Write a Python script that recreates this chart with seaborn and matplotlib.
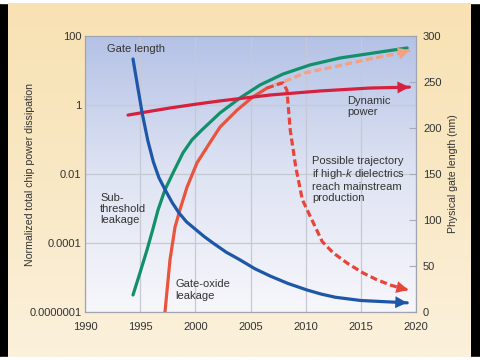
import numpy as np
import matplotlib
matplotlib.use("Agg")
import matplotlib.pyplot as plt
import seaborn as sns
from matplotlib.patches import Rectangle
from matplotlib.colors import LinearSegmentedColormap
from matplotlib.ticker import NullLocator

# values
gate_len_year = [1994.35, 1994.8, 1995.2, 1995.7, 1996.2, 1996.7, 1997.3, 1997.9, 1998.5,
                 1999.2, 2000.0, 2000.8, 2001.6, 2002.8, 2004.0, 2005.4, 2006.8,
                 2008.4, 2010.1, 2011.4, 2012.7, 2015.0, 2017.5, 2019.2]
gate_len_nm = [275, 243, 215, 186, 163, 146, 132, 119, 108,
               98, 90, 82, 75, 65, 57, 47, 39,
               31, 24, 19.5, 16, 12.5, 11, 10]

dyn_year = [1993.9, 1995.8, 1997.7, 2000.0, 2002.2, 2004.5, 2006.8, 2011.3, 2015.8, 2019.4]
dyn_power = [0.51, 0.65, 0.82, 1.05, 1.31, 1.6, 1.95, 2.55, 3.1, 3.3]

sub_year = [1994.35, 1994.98, 1995.62, 1996.1, 1996.62, 1997.25, 1998.05, 1998.88,
            1999.7, 2000.6, 2002.24, 2004.05, 2005.86, 2007.95, 2010.4, 2013.1,
            2016.1, 2019.2]
sub_power = [5.5e-7, 5.0e-6, 5.0e-5, 2.2e-4, 9.1e-4, 3.5e-3, 0.012, 0.041,
             0.098, 0.19, 0.59, 1.6, 3.8, 7.9, 14.5, 23,
             32, 45]

oxide_year = [1997.25, 1997.7, 1998.16, 1998.6, 1999.25, 2000.15, 2001.3, 2002.24,
              2003.8, 2005.2, 2006.5]
oxide_power = [1.0e-7, 1.8e-5, 2.9e-4, 9.1e-4, 4.2e-3, 0.021, 0.079, 0.23,
               0.72, 1.7, 3.1]

oxide_trend_year = [2007.2, 2008.6, 2009.9, 2012.5, 2015.6, 2018.55, 2019.45]
oxide_trend_power = [3.8, 5.6, 8.5, 12.6, 21, 32, 39]

highk_year = [2006.5, 2007.3, 2007.95, 2008.3, 2008.6, 2009.1, 2009.7, 2010.7,
              2011.5, 2012.5, 2013.8, 2015.2, 2016.4, 2017.65, 2018.6, 2019.3]
highk_power = [3.1, 3.8, 4.4, 2.7, 0.19, 0.016, 1.8e-3, 3.8e-4,
               1.1e-4, 3.7e-5, 1.3e-5, 5.0e-6, 2.6e-6, 1.5e-6, 1.1e-6, 9.1e-7]

power_ticks = [1e-7, 1e-4, 1e-2, 1, 100]
power_labels = ["0.0000001", "0.0001", "0.01", "1", "100"]
nm_ticks = [0, 50, 100, 150, 200, 250, 300]
year_ticks = [1990, 1995, 2000, 2005, 2010, 2015, 2020]

sns.set_style("white")
plt.rcParams['font.family'] = ['Liberation Sans', 'DejaVu Sans']
plt.rcParams['mathtext.fontset'] = 'custom'
plt.rcParams['mathtext.rm'] = 'Liberation Sans'
plt.rcParams['mathtext.it'] = 'Liberation Sans:italic'
txt = '#333333'


# the power axis has equal spacing per tick although the last step is 3 decades
def fwd(p):
    lp = np.log10(np.maximum(np.asarray(p, float), 1e-300))
    return np.where(lp >= -4, (lp + 4) / 2 + 1, (lp + 7) / 3)


def inv(q):
    q = np.asarray(q, float)
    return np.where(q >= 1, 10 ** (2 * (q - 1) - 4), 10 ** (3 * q - 7))


fig = plt.figure(figsize=(4.8, 3.6), dpi=100, facecolor='black')
fig.patches.append(Rectangle((0, 0), 1, 3 / 360, transform=fig.transFigure,
                             color='white', zorder=-20))
fig.patches.append(Rectangle((0, 357 / 360), 1, 3 / 360, transform=fig.transFigure,
                             color='white', zorder=-20))

bg = fig.add_axes([0, 0, 1, 1], zorder=-10)
bg.set_axis_off()
grad = np.linspace(0, 1, 256).reshape(-1, 1)
cream = LinearSegmentedColormap.from_list('cream', ['#fbf1dc', '#f9e8c4', '#f8e2b4'])
blue_bg = LinearSegmentedColormap.from_list('bluebg', ['#f7f7fb', '#dfe4f3', '#b4c2e6'])
bg.imshow(grad, cmap=cream, origin='lower', aspect='auto',
          extent=[8 / 480, 471 / 480, 3 / 360, 357 / 360])
bg.imshow(grad, cmap=blue_bg, origin='lower', aspect='auto',
          extent=[85 / 480, 416 / 480, 48 / 360, 324 / 360])
bg.set_xlim(0, 1)
bg.set_ylim(0, 1)

ax = fig.add_axes([85 / 480, 48 / 360, 331 / 480, 276 / 360])
ax.set_facecolor('none')
ax.set_yscale('function', functions=(fwd, inv))
ax2 = ax.twinx()

lw = 2.3
sns.lineplot(x=sub_year, y=sub_power, ax=ax, color='#11906a', lw=lw,
             sort=False, estimator=None)
sns.lineplot(x=oxide_year, y=oxide_power, ax=ax, color='#e8543c', lw=lw,
             sort=False, estimator=None)
sns.lineplot(x=oxide_trend_year, y=oxide_trend_power, ax=ax, color='#f2a283', lw=lw,
             sort=False, estimator=None, linestyle=(0, (2.2, 1.1)))
sns.lineplot(x=highk_year, y=highk_power, ax=ax, color='#e8443a', lw=lw,
             sort=False, estimator=None, linestyle=(0, (2.2, 1.1)))
sns.lineplot(x=dyn_year, y=dyn_power, ax=ax, color='#d7203e', lw=lw,
             sort=False, estimator=None)
sns.lineplot(x=gate_len_year, y=gate_len_nm, ax=ax2, color='#1e56a8', lw=lw,
             sort=False, estimator=None)


def head(a, xs, ys, color):
    a.annotate('', xy=(xs[-1], ys[-1]), xytext=(xs[-2], ys[-2]),
               arrowprops=dict(arrowstyle='-|>,head_length=0.7,head_width=0.35',
                               color=color, lw=0.1, shrinkA=0, shrinkB=0,
                               mutation_scale=12))


head(ax, oxide_trend_year, oxide_trend_power, '#f2a283')
head(ax, highk_year, highk_power, '#e8443a')
head(ax, dyn_year, dyn_power, '#d7203e')
head(ax2, gate_len_year, gate_len_nm, '#1e56a8')

ax.set_xlim(1990, 2020)
ax.set_ylim(1e-7, 100)
ax2.set_ylim(0, 300)
ax.set_xticks(year_ticks)
ax.set_yticks(power_ticks)
ax.set_yticklabels(power_labels)
ax.yaxis.set_minor_locator(NullLocator())
ax2.set_yticks(nm_ticks)
ax.grid(True, color='#c6c9d4', lw=0.9)
ax.set_axisbelow(True)
ax.tick_params(axis='both', length=0, labelsize=8, labelcolor=txt)
ax.tick_params(axis='x', pad=7)
ax.tick_params(axis='y', pad=2.5)
ax2.tick_params(axis='y', direction='in', length=5, color='#a8acb8',
                labelsize=8, labelcolor=txt, pad=5)
for a in (ax, ax2):
    for s in a.spines.values():
        s.set_color('#a0a4b0')
        s.set_linewidth(0.8)

ax.set_xlabel('')
ax.set_ylabel('Normalized total chip power dissipation', fontsize=7.6,
              color=txt, va='center')
ax.yaxis.set_label_coords(-0.166, 0.5)
ax2.set_ylabel('Physical gate length (nm)', fontsize=7.6, color=txt, va='center')
ax2.yaxis.set_label_coords(1.112, 0.5)

fs = 8
ax2.text(1992.0, 286, 'Gate length', fontsize=fs, color=txt, va='center')
ax2.text(2013.8, 223, 'Dynamic\npower', fontsize=fs, color=txt, va='center',
         linespacing=1.15)
ax2.text(2010.6, 144, 'Possible trajectory\nif high-$k$ dielectrics\nreach mainstream\nproduction',
         fontsize=fs, color=txt, va='center', linespacing=1.15)
ax2.text(1991.36, 112, 'Sub-\nthreshold\nleakage', fontsize=fs, color=txt,
         va='center', linespacing=1.15)
ax2.text(1998.16, 24, 'Gate-oxide\nleakage', fontsize=fs, color=txt,
         va='center', linespacing=1.15)

fig.savefig('out.png', dpi=100, facecolor=fig.get_facecolor())
